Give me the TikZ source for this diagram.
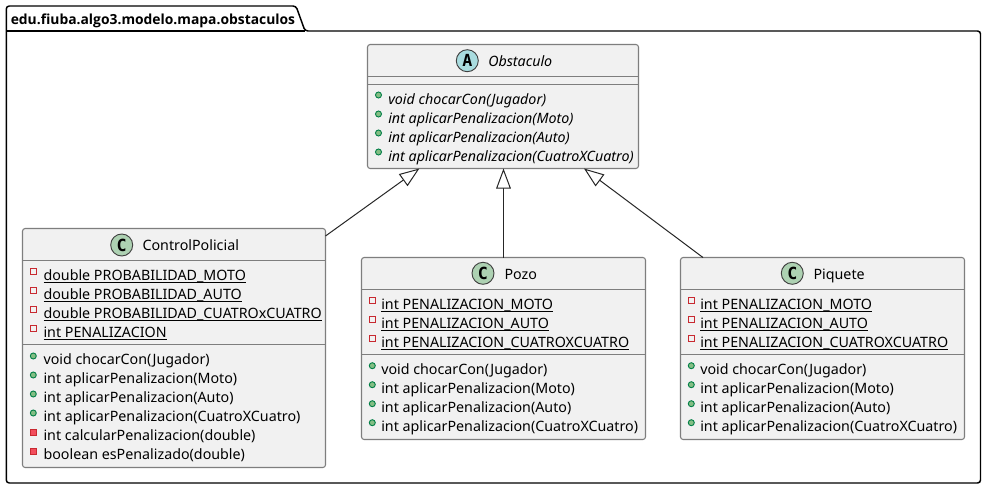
\documentclass[tikz,border=0pt]{standalone}
\usepackage{fontspec}
\setmainfont{Noto Sans}
\newfontfamily\badgefont{DejaVu Sans Mono}
\newfontfamily\pkgfont{Open Sans}
\usetikzlibrary{arrows.meta,calc}
\definecolor{boxfill}{HTML}{F1F1F1}
\definecolor{boxline}{HTML}{7E7E7E}
\definecolor{abstractfill}{HTML}{A9DCDF}
\definecolor{classfill}{HTML}{ADD1B2}
\definecolor{publine}{HTML}{038048}
\definecolor{pubfill}{HTML}{84BE84}
\definecolor{privline}{HTML}{C82930}
\definecolor{privfill}{HTML}{F24D5C}
\newcommand{\ustatic}[1]{\underline{\rule[-0.5pt]{0pt}{1pt}\smash{#1}}}
\newcommand{\memberfont}{\fontsize{10.7}{12}\selectfont}
\tikzset{
  classbox/.style={draw=boxline,fill=boxfill,line width=0.8pt,rounded corners=2pt,inner sep=0,outer sep=0},
  sepline/.style={draw=boxline,line width=0.8pt},
  badge/.style={circle,draw=black!75,line width=0.7pt,minimum size=16.5pt,inner sep=0,font=\badgefont\fontsize{12.5}{13}\selectfont\bfseries},
  member/.style={anchor=base west,inner sep=0,font=\memberfont},
  title/.style={member},
  pubdot/.style={draw=publine,fill=pubfill,line width=0.7pt},
  privsq/.style={draw=privline,line width=0.7pt},
  privfull/.style={draw=privline,fill=privfill,line width=0.7pt},
  extends/.style={draw=black!85,line width=0.75pt,-{Triangle[open,fill=white,length=15pt,width=11pt]}},
  pkg/.style={draw=black,line width=1.1pt,rounded corners=2.2pt}
}
\begin{document}
\begin{tikzpicture}[x=0.75pt,y=-0.75pt]
\useasboundingbox (0,0) rectangle (986,489);

% package
\draw[pkg,fill=white] (6.3,483) -- (6.3,6) -- (296,6) -- (305,31) -- (980.5,31) -- (980.5,483) -- cycle;
\draw[draw=black,line width=1.1pt] (6.3,31) -- (305,31);
\node[member,font=\pkgfont\fontsize{10.4}{12}\selectfont\bfseries] (pkgTitle) at (10.5,24) {edu.fiuba.algo3.modelo.mapa.obstaculos};

% boxes
\node[classbox,minimum width=203.25pt,minimum height=93pt] (obstaculo) at (503,106.5) {};
\node[classbox,minimum width=227.25pt,minimum height=179.25pt] (control) at (174,348) {};
\node[classbox,minimum width=213pt,minimum height=136.5pt] (pozo) at (503.5,348.5) {};
\node[classbox,minimum width=213pt,minimum height=136.5pt] (piquete) at (822.5,348.5) {};

% compartments
\draw[sepline] (obstaculo.west |- 0,76.5) -- (obstaculo.east |- 0,76.5);
\draw[sepline] (obstaculo.west |- 0,84.5) -- (obstaculo.east |- 0,84.5);
\draw[sepline] (control.west |- 0,260.5) -- (control.east |- 0,260.5);
\draw[sepline] (control.west |- 0,344.5) -- (control.east |- 0,344.5);
\draw[sepline] (pozo.west |- 0,289.5) -- (pozo.east |- 0,289.5);
\draw[sepline] (pozo.west |- 0,354.5) -- (pozo.east |- 0,354.5);
\draw[sepline] (piquete.west |- 0,289.5) -- (piquete.east |- 0,289.5);
\draw[sepline] (piquete.west |- 0,354.5) -- (piquete.east |- 0,354.5);

% headers
\node[badge,fill=abstractfill] (obstaculoBadge) at (467.3,60.7) {A};
\node[title,font=\memberfont\itshape] (obstaculoTitle) at (488,66) {Obstaculo};
\node[badge,fill=classfill] (controlBadge) at (121.7,245) {C};
\node[title] (controlTitle) at (142.3,250) {ControlPolicial};
\node[badge,fill=classfill] (pozoBadge) at (483,273.3) {C};
\node[title] (pozoTitle) at (504.3,279) {Pozo};
\node[badge,fill=classfill] (piqueteBadge) at (792.3,273.3) {C};
\node[title] (piqueteTitle) at (813.3,279) {Piquete};

% Obstaculo
\foreach \txt [count=\i] in {void chocarCon(Jugador),int aplicarPenalizacion(Moto),int aplicarPenalizacion(Auto),int aplicarPenalizacion(CuatroXCuatro)} {
  \node[member,font=\memberfont\itshape] (obstaculoM\i) at (388,85+19*\i) {\txt};
  \draw[pubdot] (378.5,76+19*\i) circle (3);
}

% ControlPolicial
\foreach \txt [count=\i] in {double PROBABILIDAD\_MOTO,double PROBABILIDAD\_AUTO,double PROBABILIDAD\_CUATROxCUATRO,int PENALIZACION} {
  \node[member] (controlF\i) at (43.3,261+19*\i) {\ustatic{\txt}};
  \draw[privsq] (30.3,249.7+19*\i) rectangle +(6,6);
}
\foreach \txt [count=\i] in {void chocarCon(Jugador),int aplicarPenalizacion(Moto),int aplicarPenalizacion(Auto),int aplicarPenalizacion(CuatroXCuatro)} {
  \node[member] (controlM\i) at (43.3,345+19*\i) {\txt};
  \draw[pubdot] (33.3,337+19*\i) circle (3);
}
\node[member] (controlM5) at (43.3,440) {int calcularPenalizacion(double)};
\draw[privfull] (30.3,429.3) rectangle +(6,6);
\node[member] (controlM6) at (43.3,459) {boolean esPenalizado(double)};
\draw[privfull] (30.3,448.3) rectangle +(6,6);

% Pozo and Piquete
\foreach \name/\xt/\xi in {pozo/381/372.3,piquete/700/691.3} {
  \foreach \txt [count=\i] in {int PENALIZACION\_MOTO,int PENALIZACION\_AUTO,int PENALIZACION\_CUATROXCUATRO} {
    \node[member] (\name F\i) at (\xt,290+19*\i) {\ustatic{\txt}};
    \draw[privsq] (\xi-3,278.7+19*\i) rectangle +(6,6);
  }
  \foreach \txt [count=\i] in {void chocarCon(Jugador),int aplicarPenalizacion(Moto),int aplicarPenalizacion(Auto),int aplicarPenalizacion(CuatroXCuatro)} {
    \node[member] (\name M\i) at (\xt,355+19*\i) {\txt};
    \draw[pubdot] (\xi,346.7+19*\i) circle (3);
  }
}

% inheritance
\draw[extends] ($(control.east |- 0,236)$) -- ($(obstaculo.south)+(-83.6,0)$);
\draw[extends] (pozo.north) -- (pozo.north |- obstaculo.south);
\draw[extends] ($(piquete.north)+(-119.5,0)$) -- ($(obstaculo.south)+(81,0)$);
\end{tikzpicture}
\end{document}
